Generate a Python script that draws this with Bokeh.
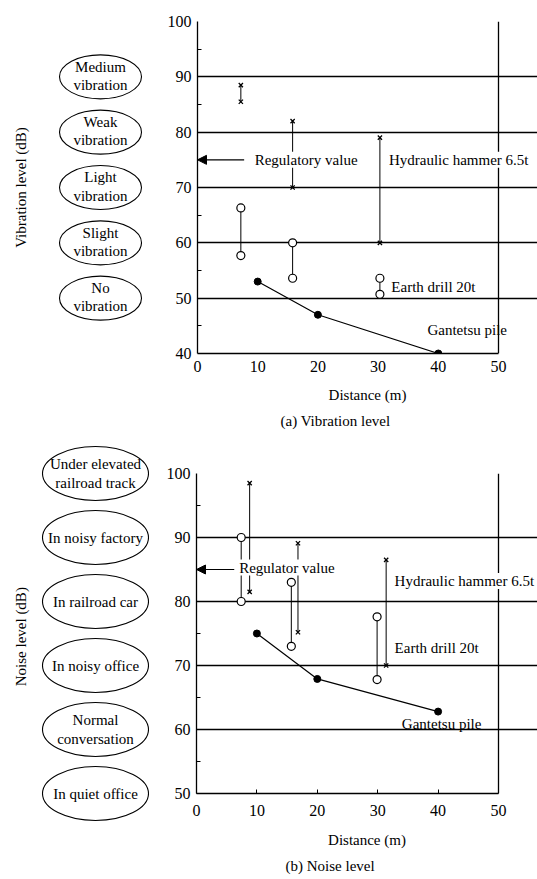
import math
from bokeh.plotting import figure
from bokeh.layouts import column, row
from bokeh.models import Range1d, FixedTicker, Label, Arrow, NormalHead, Title, Span
from bokeh.core.properties import value
from bokeh.embed import file_html
from bokeh.resources import INLINE

FONT = "Liberation Serif"

# ---------------- (a) Vibration level ----------------
vib_hammer_x = [7.2, 15.8, 30.3]
vib_hammer_hi = [88.5, 82.0, 79.0]
vib_hammer_lo = [85.5, 70.0, 60.0]
vib_drill_x = [7.2, 15.8, 30.3]
vib_drill_hi = [66.3, 60.0, 53.6]
vib_drill_lo = [57.7, 53.6, 50.7]
vib_pile_x = [10, 20, 40]
vib_pile_y = [53.0, 47.0, 40.0]
vib_zone_labels = ["Medium\nvibration", "Weak\nvibration", "Light\nvibration",
                   "Slight\nvibration", "No\nvibration"]
vib_zone_levels = [90, 80, 70, 60, 50]
vib_yticks = [40, 50, 60, 70, 80, 90, 100]
vib_regulatory = 75

# ---------------- (b) Noise level ----------------
noise_hammer_x = [8.8, 16.8, 31.4]
noise_hammer_hi = [98.5, 89.1, 86.5]
noise_hammer_lo = [81.5, 75.2, 70.0]
noise_drill_x = [7.4, 15.7, 29.9]
noise_drill_hi = [90.0, 83.0, 77.6]
noise_drill_lo = [80.0, 73.0, 67.8]
noise_pile_x = [10, 20, 40]
noise_pile_y = [75.0, 67.9, 62.8]
noise_zone_labels = ["Under elevated\nrailroad track", "In noisy factory", "In railroad car",
                     "In noisy office", "Normal\nconversation", "In quiet office"]
noise_zone_levels = [100, 90, 80, 70, 60, 50]
noise_yticks = [50, 60, 70, 80, 90, 100]
noise_regulatory = 85

xticks = [0, 10, 20, 30, 40, 50]
X_MAX = 50

LEFT_W = 158
RIGHT_W = 379


def build(d):
    ylo, yhi = d["ylim"]
    H = d["height"]
    fb_top, fb_bot = d["border_top"], d["border_bottom"]
    frame_h = H - fb_top - fb_bot
    ppd = frame_h / (yhi - ylo)
    frame_w = RIGHT_W - d["border_left"]
    x_end = X_MAX * frame_w / d["plot_w"]

    # ---- main chart ----
    p = figure(width=RIGHT_W, height=H, x_range=Range1d(0, x_end), y_range=Range1d(ylo, yhi),
               toolbar_location=None, output_backend="svg", frame_align=False,
               min_border_left=d["border_left"], min_border_right=0,
               min_border_top=fb_top, min_border_bottom=fb_bot)
    p.outline_line_color = None
    p.xgrid.visible = False
    p.ygrid.grid_line_color = "black"
    p.ygrid.grid_line_width = 1.3
    p.ygrid.bounds = (0, X_MAX)
    p.ygrid.ticker = FixedTicker(ticks=d["yticks"])
    p.yaxis.ticker = FixedTicker(ticks=d["yticks"],
                                 minor_ticks=[t + 5 for t in d["yticks"][:-1]])
    p.xaxis.ticker = FixedTicker(ticks=xticks)
    p.xaxis.bounds = (0, X_MAX)
    for ax in (p.xaxis[0], p.yaxis[0]):
        ax.axis_line_color = "black"
        ax.axis_line_width = 1.3
        ax.major_tick_out = 0
        ax.minor_tick_out = 0
        ax.major_label_text_font = FONT
        ax.major_label_text_font_size = "16px"
        ax.major_label_text_color = "black"
        ax.major_tick_line_color = "black"
        ax.minor_tick_line_color = "black"
    p.yaxis.major_tick_in = 0
    p.yaxis.minor_tick_in = 4
    p.yaxis.major_label_standoff = 6
    p.xaxis.major_tick_in = d["xtick_in"]
    p.xaxis.minor_tick_line_color = None
    p.xaxis.major_label_standoff = d["xlabel_standoff"]
    p.xaxis.axis_label = "Distance (m)"
    p.xaxis.axis_label_text_font = FONT
    p.xaxis.axis_label_text_font_size = "15px"
    p.xaxis.axis_label_text_font_style = "normal"
    p.xaxis.axis_label_text_color = "black"
    p.xaxis.axis_label_standoff = d["axis_label_standoff"]

    # right border of the chart box
    p.add_layout(Span(location=X_MAX, dimension="height", line_color="black", line_width=1.3))

    cap = Title(text=d["caption"], align="left", offset=d["caption_offset"], text_font=FONT,
                text_font_size="15px", text_font_style="normal", text_color="black",
                standoff=10)
    p.add_layout(cap, "below")

    # hammer
    p.segment(x0=d["hx"], y0=d["hlo"], x1=d["hx"], y1=d["hhi"], line_color="black", line_width=1)
    p.scatter(x=d["hx"] + d["hx"], y=d["hhi"] + d["hlo"], marker="x", size=6,
              line_color="black", line_width=1.3)
    # earth drill
    p.segment(x0=d["dx"], y0=d["dlo"], x1=d["dx"], y1=d["dhi"], line_color="black", line_width=1)
    p.scatter(x=d["dx"] + d["dx"], y=d["dhi"] + d["dlo"], marker="circle", size=8,
              fill_color="white", line_color="black", line_width=1.2)
    # gantetsu pile
    p.line(x=d["px"], y=d["py"], line_color="black", line_width=1.2)
    p.scatter(x=d["px"], y=d["py"], marker="circle", size=7, fill_color="black",
              line_color="black")

    # arrow for regulatory value
    p.add_layout(Arrow(end=NormalHead(size=9, fill_color="black", line_color="black"),
                       x_start=d["arrow_tail"], y_start=d["reg"], x_end=0, y_end=d["reg"],
                       line_color="black", line_width=1.2))

    for (tx, ty, txt, bg) in d["labels"]:
        p.add_layout(Label(x=tx, y=ty, text=txt, text_align="left", text_baseline="middle",
                           text_font=FONT, text_font_size="15px", text_color="black",
                           background_fill_color=("white" if bg else None)))

    # ---- left bubble column ----
    l_lo = ylo - fb_bot / ppd
    l_hi = yhi + fb_top / ppd
    q = figure(width=LEFT_W, height=H, x_range=Range1d(0, LEFT_W), y_range=Range1d(l_lo, l_hi),
               toolbar_location=None, output_backend="svg", frame_align=False,
               min_border_left=0, min_border_right=0, min_border_top=0, min_border_bottom=0,
               x_axis_location=None, y_axis_location=None)
    q.outline_line_color = None
    q.grid.visible = False
    n = len(d["zones"])
    q.ellipse(x=[d["ell_cx"]] * n, y=d["zone_levels"], width=d["ell_w"],
              height=d["ell_h"] / ppd, fill_color="white", line_color="black", line_width=1.1)
    q.text(x=[d["ell_cx"]] * n, y=d["zone_levels"], text=d["zones"], text_align="center",
           text_baseline="middle", text_font=value(FONT), text_font_size="15px",
           text_line_height=1.15, text_color="black", y_offset=d["text_dy"])
    q.add_layout(Label(x=20, y=d["ylabel_y"], text=d["ylabel"], angle=math.pi / 2,
                       text_align="center", text_baseline="middle", text_font=FONT,
                       text_font_size="15px", text_color="black"))
    return row(q, p)


vib = dict(ylim=(40, 100), height=437, border_top=21, border_bottom=84, border_left=39,
           plot_w=301, xlabel_standoff=7, axis_label_standoff=12, caption_offset=83,
           yticks=vib_yticks, xtick_in=0, caption="(a) Vibration level",
           hx=vib_hammer_x, hhi=vib_hammer_hi, hlo=vib_hammer_lo,
           dx=vib_drill_x, dhi=vib_drill_hi, dlo=vib_drill_lo,
           px=vib_pile_x, py=vib_pile_y, reg=vib_regulatory, arrow_tail=7.75,
           labels=[(9.5, 75, "Regulatory value", True),
                   (31.8, 75, "Hydraulic hammer 6.5t", True),
                   (32.2, 52.1, "Earth drill 20t", False),
                   (38.2, 44.2, "Gantetsu pile", False)],
           zones=vib_zone_labels, zone_levels=vib_zone_levels, text_dy=-1,
           ell_cx=100, ell_w=82, ell_h=44, ylabel="Vibration level (dB)", ylabel_y=70)

noise = dict(ylim=(50, 100), height=442, border_top=36, border_bottom=86, border_left=38,
             plot_w=302, xlabel_standoff=11, axis_label_standoff=13, caption_offset=89,
             yticks=noise_yticks, xtick_in=4, caption="(b) Noise level",
             hx=noise_hammer_x, hhi=noise_hammer_hi, hlo=noise_hammer_lo,
             dx=noise_drill_x, dhi=noise_drill_hi, dlo=noise_drill_lo,
             px=noise_pile_x, py=noise_pile_y, reg=noise_regulatory, arrow_tail=6.25,
             labels=[(7.07, 85.3, "Regulator value", True),
                     (32.8, 83.2, "Hydraulic hammer 6.5t", True),
                     (32.8, 72.7, "Earth drill 20t", False),
                     (34.0, 60.9, "Gantetsu pile", False)],
             zones=noise_zone_labels, zone_levels=noise_zone_levels, text_dy=0,
             ell_cx=95, ell_w=106, ell_h=54, ylabel="Noise level (dB)", ylabel_y=74.5)

layout = column(build(vib), build(noise))

open("out.html", "w").write(file_html(layout, INLINE))
